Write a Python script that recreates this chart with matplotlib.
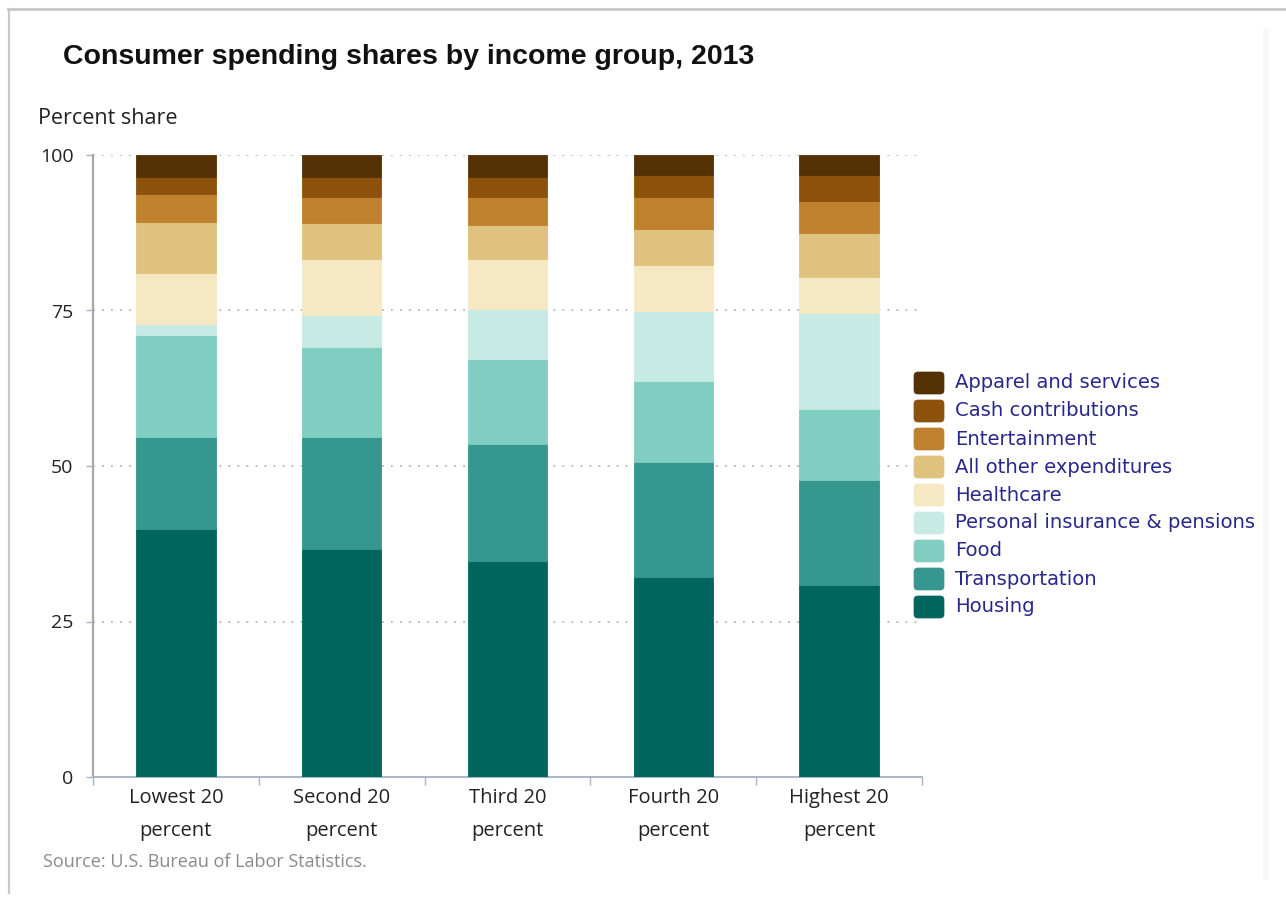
import matplotlib
matplotlib.use("Agg")
import matplotlib.pyplot as plt
from matplotlib.patches import FancyBboxPatch
from matplotlib.lines import Line2D
import numpy as np

# Income quintiles
groups = ["Lowest 20\npercent", "Second 20\npercent", "Third 20\npercent",
          "Fourth 20\npercent", "Highest 20\npercent"]

# Spending shares (percent), stacked from the bottom up
housing        = [39.8, 36.6, 34.7, 32.1, 30.8]
transportation = [14.8, 18.0, 18.9, 18.6, 17.0]
food           = [16.5, 14.5, 13.6, 12.9, 11.3]
personal_ins   = [1.8, 5.2, 8.0, 11.3, 15.5]
healthcare     = [8.1, 8.9, 8.0, 7.4, 5.8]
all_other      = [8.3, 5.9, 5.5, 5.8, 7.1]
entertainment  = [4.5, 4.1, 4.5, 5.1, 5.1]
cash_contrib   = [2.6, 3.2, 3.2, 3.6, 4.2]
apparel        = [3.6, 3.6, 3.6, 3.2, 3.2]

series_names = ["Housing", "Transportation", "Food", "Personal insurance & pensions",
                "Healthcare", "All other expenditures", "Entertainment",
                "Cash contributions", "Apparel and services"]
series_values = [housing, transportation, food, personal_ins, healthcare,
                 all_other, entertainment, cash_contrib, apparel]
series_colors = ["#01665e", "#35978f", "#80cdc1", "#c7eae5", "#f6e8c3",
                 "#dfc27d", "#bf812d", "#8c510a", "#543005"]

W, H = 1286, 897
fig = plt.figure(figsize=(W / 100, H / 100), dpi=100)
fig.patch.set_facecolor("white")

# page frame: top and left rules, faint right band
fig.add_artist(Line2D([8 / W, 1], [1 - 9 / H, 1 - 9 / H], color="#c8c8c8", lw=2))
fig.add_artist(Line2D([8.5 / W, 8.5 / W], [0.004, 1 - 9 / H], color="#c8c8c8", lw=1.6))
fig.add_artist(plt.Rectangle((1263 / W, 1 - 880 / H), 6 / W, 851 / H,
                             facecolor="#f6f6f6", edgecolor="none"))

ax = fig.add_axes([93 / W, 1 - 777 / H, 829 / W, 622 / H])
x = np.arange(len(groups))
bottom = np.zeros(len(groups))
for name, vals, col in zip(series_names, series_values, series_colors):
    ax.bar(x, vals, width=0.48, bottom=bottom, color=col, edgecolor=col,
           linewidth=0.6, label=name, zorder=3)
    bottom += np.array(vals)

ax.set_xlim(-0.5, len(groups) - 0.5)
ax.set_ylim(0, 100)
ax.set_yticks([0, 25, 50, 75, 100])
ax.yaxis.grid(True, linestyle=(0, (1, 4)), color="#b5b5b5", linewidth=1.3, zorder=0)
ax.set_axisbelow(True)

for s in ["top", "right"]:
    ax.spines[s].set_visible(False)
ax.spines["left"].set_color("#a8a8a8")
ax.spines["left"].set_linewidth(1.6)
ax.spines["bottom"].set_color("#a9b4c8")
ax.spines["bottom"].set_linewidth(1.4)

ax.tick_params(axis="y", length=5, width=1, color="#a9b4c8", pad=9,
               labelsize=14, labelcolor="#222222")
ax.set_xticks(x)
ax.set_xticklabels(groups, fontsize=14.5, color="#222222", linespacing=1.85,
                   family="Open Sans")
ax.tick_params(axis="x", length=0, pad=8)
for t in ax.get_yticklabels():
    t.set_family("Open Sans")
# boundary ticks between categories
ax.set_xticks(np.arange(-0.5, len(groups)), minor=True)
ax.tick_params(axis="x", which="minor", length=6, width=1, color="#a9b4c8")

# title and annotations
fig.text(63 / W, 1 - 57 / H, "Consumer spending shares by income group, 2013",
         fontsize=20.5, fontweight="bold", family="Liberation Sans",
         color="#111111", va="center", ha="left")
fig.text(38 / W, 1 - 118 / H, "Percent share", fontsize=15.5, family="Open Sans",
         color="#222222", va="center", ha="left")
fig.text(43 / W, 1 - 862 / H, "Source: U.S. Bureau of Labor Statistics.",
         fontsize=13, family="Open Sans", color="#8a8a8a", va="center", ha="left")

# legend with rounded swatches, top entry first
row_y0, row_dy = 383, 28
for i, (name, col) in enumerate(zip(series_names[::-1], series_colors[::-1])):
    yc = row_y0 + i * row_dy
    sw = FancyBboxPatch((914 / W, 1 - (yc + 11) / H), 30 / W, 22 / H,
                        boxstyle="round,pad=0,rounding_size=0.003",
                        transform=fig.transFigure, facecolor=col,
                        edgecolor=col, linewidth=0.5, mutation_aspect=W / H)
    fig.add_artist(sw)
    fig.text(955 / W, 1 - yc / H, name, fontsize=14.1, family="DejaVu Sans",
             color="#28288a", va="center", ha="left")

fig.savefig("out.png", dpi=100)
